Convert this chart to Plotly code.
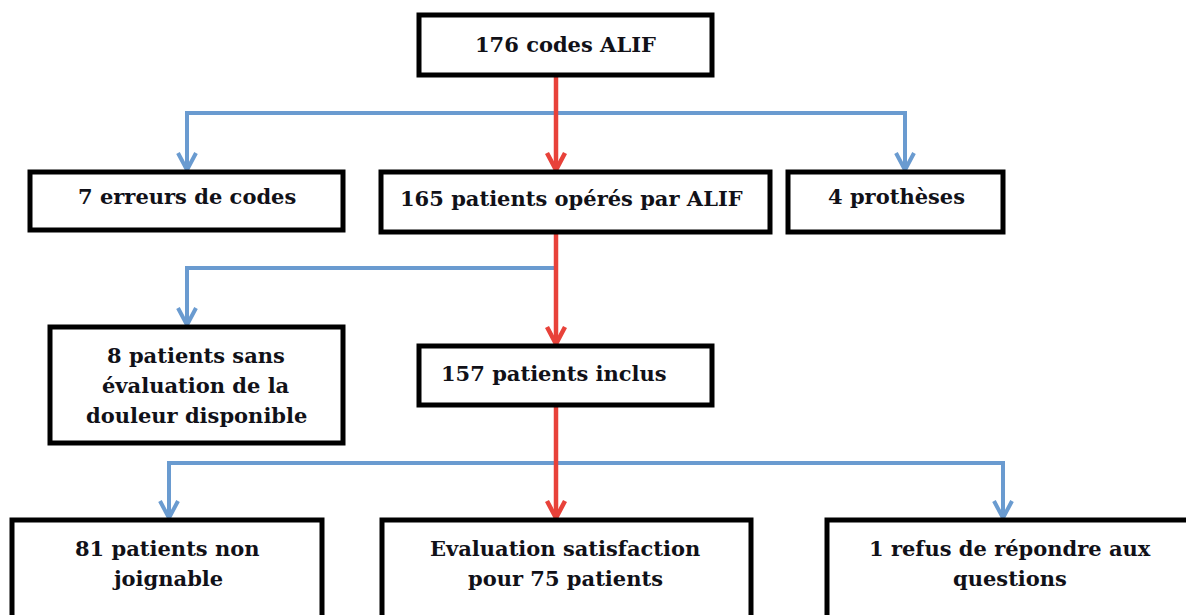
import plotly.graph_objects as go

# ---- data (flowchart content) ----
labels = [
    ["176 codes ALIF"],
    ["7 erreurs de codes"],
    ["165 patients opérés par ALIF"],
    ["4 prothèses"],
    ["8 patients sans", "évaluation de la", "douleur disponible"],
    ["157 patients inclus"],
    ["81 patients non", "joignable"],
    ["Evaluation satisfaction", "pour 75 patients"],
    ["1 refus de répondre aux", "questions"],
]

# ---- layout geometry (pixels, y downwards) ----
# box: x0, x1, y0, y1 ; text: x anchor, first line y, alignment
boxes = [
    (419, 712, 15, 75),
    (30, 343, 172, 230),
    (381, 770, 172, 232),
    (788, 1003, 172, 232),
    (50, 343, 327, 443),
    (419, 712, 346, 405),
    (12, 322, 520, 660),
    (382, 751, 520, 660),
    (827, 1260, 520, 660),
]
text_pos = [
    (565, 44, "center"),
    (187, 196, "center"),
    (571, 198, "center"),
    (896, 196, "center"),
    (196, 355, "center"),
    (439, 373, "left"),
    (167, 548, "center"),
    (565, 548, "center"),
    (1010, 548, "center"),
]
line_gap = 30

RED = "#e8423a"
BLUE = "#6a9bd0"

# main flow (red) : (x, y_start, y_end)
red_arrows = [(556, 75, 172), (556, 232, 346), (556, 405, 520)]
# branches (blue): list of polyline points ending with arrow tip
blue_paths = [
    [(556, 113), (187, 113), (187, 172)],
    [(556, 113), (905, 113), (905, 172)],
    [(556, 268), (187, 268), (187, 327)],
    [(556, 463), (169, 463), (169, 520)],
    [(556, 463), (1003, 463), (1003, 520)],
]

fig = go.Figure()
shapes = []
annotations = []

def chevron(x, y, color, w):
    return dict(type="path", xref="x", yref="y",
                path=f"M {x-9},{y-17} L {x},{y} L {x+9},{y-17}",
                line=dict(color=color, width=w))

for pts in blue_paths:
    xs = [p[0] for p in pts]
    ys = [p[1] for p in pts]
    fig.add_trace(go.Scatter(x=xs, y=ys, mode="lines",
                             line=dict(color=BLUE, width=4),
                             hoverinfo="skip", showlegend=False))
    shapes.append(chevron(pts[-1][0], pts[-1][1] - 2, BLUE, 4))

for x, y0, y1 in red_arrows:
    fig.add_trace(go.Scatter(x=[x, x], y=[y0, y1 - 2], mode="lines",
                             line=dict(color=RED, width=4.5),
                             hoverinfo="skip", showlegend=False))
    shapes.append(chevron(x, y1 - 2, RED, 4.5))

for (x0, x1, y0, y1) in boxes:
    shapes.append(dict(type="rect", xref="x", yref="y", x0=x0, x1=x1, y0=y0, y1=y1,
                       line=dict(color="#000000", width=5), fillcolor="white", layer="above"))

for lines, (tx, ty, al) in zip(labels, text_pos):
    for i, ln in enumerate(lines):
        annotations.append(dict(
            x=tx, y=ty + i * line_gap, xref="x", yref="y",
            text=f"<b>{ln}</b>", showarrow=False,
            xanchor="left" if al == "left" else "center", yanchor="middle",
            font=dict(family="DejaVu Serif", size=21, color="#111118"),
        ))

fig.update_layout(
    width=1186, height=615,
    margin=dict(l=0, r=0, t=0, b=0),
    paper_bgcolor="white", plot_bgcolor="white",
    xaxis=dict(range=[0, 1186], visible=False, fixedrange=True),
    yaxis=dict(range=[615, 0], visible=False, fixedrange=True),
    shapes=shapes, annotations=annotations,
    showlegend=False,
)
fig.write_html("out.html",
               config={"displayModeBar": False},
               post_script="document.body.style.margin='0';document.body.style.overflow='hidden';")
